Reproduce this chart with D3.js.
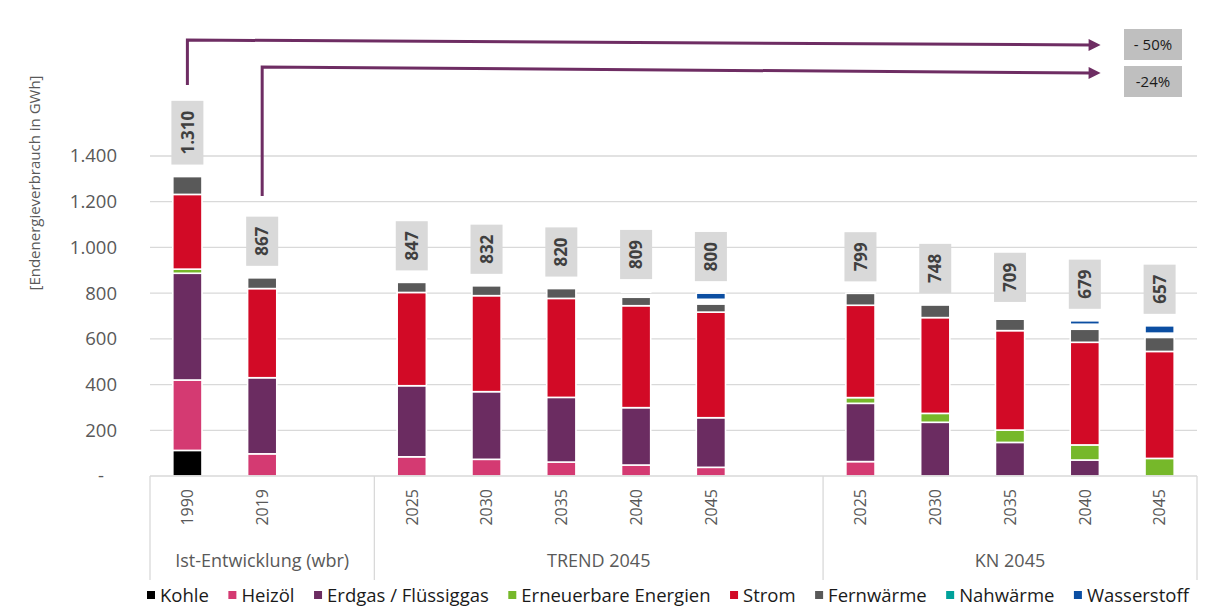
<!DOCTYPE html>
<html><head><meta charset="utf-8">
<script src="https://cdn.jsdelivr.net/npm/d3@7"></script>
<style>
html,body{margin:0;padding:0;background:#fff;}
svg{display:block;font-family:"Open Sans","Noto Sans",sans-serif;}
</style></head>
<body><svg id="chart" width="1208" height="612"></svg>
<script>
// ---------- data ----------
const categories = ["1990","2019","","2025","2030","2035","2040","2045","","2025","2030","2035","2040","2045"];
const groupOfCategory = [0,0,0,1,1,1,1,1,1,2,2,2,2,2];
const groups = ["Ist-Entwicklung (wbr)","TREND 2045","KN 2045"];
const seriesNames = ["Kohle","Heizöl","Erdgas / Flüssiggas","Erneuerbare Energien","Strom","Fernwärme","Nahwärme","Wasserstoff"];
const kohle     = [112,  0,null,  0,  0,  0,  0,  0,null,  0,  0,  0,  0,  0];
const heizoel   = [308, 97,null, 84, 73, 61, 48, 38,null, 63,  0,  0,  0,  0];
const erdgas    = [467,333,null,311,296,283,251,217,null,255,235,147, 70,  0];
const erneuerbar= [ 18,  0,null,  0,  0,  0,  0,  0,null, 25, 39, 54, 66, 77];
const strom     = [327,390,null,408,420,433,446,462,null,404,419,435,449,468];
const fernwaerme= [ 78, 47,null, 44, 43, 43, 37, 35,null, 52, 55, 50, 57, 61];
const nahwaerme = [  0,  0,null,  0,  0,  0, 22, 21,null,  0,  0, 23, 22, 19];
const wasserstoff=[  0,  0,null,  0,  0,  0,  5, 27,null,  0,  0,  0, 15, 32];
const yTicks = [0,200,400,600,800,1000,1200,1400];
const changeLabels = ["- 50%","-24%"];
const changeFrom = [0,1]; // category index the arrow starts from

// ---------- styling ----------
const colors = ["#000000","#d43a72","#6b2c61","#76b82a","#d20a26","#595959","#00a19a","#0b4ea2"];
const barFill = ["#000000","#d43a72","#6b2c61","#76b82a","#d20a26","#595959","none","#0b4ea2"];
const seriesData = [kohle,heizoel,erdgas,erneuerbar,strom,fernwaerme,nahwaerme,wasserstoff];

const svg = d3.select("#chart");
const m={left:150,right:1197,top:156,bottom:476};
const de = d3.formatLocale({decimal:",",thousands:".",grouping:[3],currency:["","€"]});
const fmt = de.format(",d");

const x = d3.scaleBand().domain(d3.range(categories.length)).range([m.left,m.right]).paddingInner(0.61).paddingOuter(0.305);
const y = d3.scaleLinear().domain([0,1400]).range([m.bottom,m.top]);

// gridlines
svg.append("g").selectAll("line").data(yTicks.filter(d=>d>0)).join("line")
  .attr("x1",m.left).attr("x2",m.right).attr("y1",d=>y(d)).attr("y2",d=>y(d))
  .attr("stroke","#d9d9d9").attr("stroke-width",1.3);

// y axis labels
const yAxis = d3.axisLeft(y).tickValues(yTicks).tickSize(0).tickPadding(33)
  .tickFormat(d=>d===0?"-":fmt(d));
const gy = svg.append("g").attr("transform",`translate(${m.left},0)`).call(yAxis);
gy.select(".domain").remove();
gy.selectAll("text").attr("font-size",18.5).attr("fill","#595959").attr("font-family","Open Sans");
gy.selectAll(".tick").filter(d=>d===0).select("text").attr("dx",-13);

// y title
svg.append("text").attr("transform","translate(40,183) rotate(-90)")
  .attr("text-anchor","middle").attr("font-size",15).attr("fill","#595959")
  .text("[Endenergieverbrauch in GWh]");

// stacked bars
const rows = categories.map((c,i)=>{const r={i}; seriesNames.forEach((s,k)=>r[s]=seriesData[k][i]||0); return r;});
const stack = d3.stack().keys(seriesNames)(rows.filter(r=>categories[r.i]!==""));
stack.forEach((layer,k)=>{
  svg.append("g").selectAll("rect").data(layer.filter(d=>d[1]-d[0]>0)).join("rect")
    .attr("x",d=>x(d.data.i)).attr("width",x.bandwidth())
    .attr("y",d=>y(d[1])).attr("height",d=>y(d[0])-y(d[1]))
    .attr("fill",barFill[k])
    .attr("stroke",barFill[k]==="none"?"none":"#ffffff").attr("stroke-width",1.6);
});

// total labels
const totals = categories.map((c,i)=>c===""?null:d3.sum(seriesData,s=>s[i]||0));
const lab = svg.append("g").selectAll("g").data(totals.map((t,i)=>({t,i})).filter(d=>d.t!==null)).join("g")
  .attr("transform",d=>`translate(${x(d.i)+x.bandwidth()/2},${y(d.t)-12})`);
lab.each(function(d){
  const g=d3.select(this);
  const t=g.append("text").attr("transform","rotate(-90)").attr("text-anchor","start")
    .attr("x",10).attr("dy","0.36em").attr("font-size",17).attr("font-weight","bold").attr("fill","#404040")
    .text(fmt(d.t));
  const len=t.node().getComputedTextLength();
  g.insert("rect","text").attr("x",-16).attr("width",32).attr("y",-(len+20)).attr("height",len+20).attr("fill","#d9d9d9");
});

// x axis
svg.append("line").attr("x1",m.left).attr("x2",m.right).attr("y1",m.bottom).attr("y2",m.bottom)
  .attr("stroke","#d9d9d9").attr("stroke-width",1.3);
const groupBounds = groups.map((g,gi)=>{
  const idx=d3.range(categories.length).filter(i=>groupOfCategory[i]===gi);
  const x0=x(idx[0])-x.step()*x.paddingInner()/2, x1=x(idx[idx.length-1])+x.bandwidth()+x.step()*x.paddingInner()/2;
  return {g,x0,x1};
});
const seps = [groupBounds[0].x0, ...groupBounds.map(b=>b.x1)];
svg.append("g").selectAll("line").data(seps).join("line")
  .attr("x1",d=>d).attr("x2",d=>d).attr("y1",m.bottom).attr("y2",580)
  .attr("stroke","#d9d9d9").attr("stroke-width",1.3);
svg.append("g").selectAll("text").data(categories.map((c,i)=>({c,i})).filter(d=>d.c!=="")).join("text")
  .attr("transform",d=>`translate(${x(d.i)+x.bandwidth()/2},489) rotate(-90)`)
  .attr("text-anchor","end").attr("dy","0.36em").attr("font-size",16).attr("fill","#595959").text(d=>d.c);
svg.append("g").selectAll("text").data(groupBounds).join("text")
  .attr("x",d=>(d.x0+d.x1)/2).attr("y",567).attr("text-anchor","middle")
  .attr("font-size",18).attr("fill","#595959").text(d=>d.g);

// legend
const leg = svg.append("g");
let lx = 147;
seriesNames.forEach((s,k)=>{
  leg.append("rect").attr("x",lx).attr("y",591).attr("width",8).attr("height",8).attr("fill",colors[k]);
  const t=leg.append("text").attr("x",lx+13).attr("y",602).attr("font-size",18.5).attr("fill","#1a1a1a").text(s);
  lx += 13 + t.node().getComputedTextLength() + 19.5;
});

// arrows
const purple="#6e2d63";
const defs=svg.append("defs");
defs.append("marker").attr("id","ah").attr("viewBox","0 0 10 10").attr("refX",2).attr("refY",5)
  .attr("markerWidth",4.6).attr("markerHeight",4).attr("orient","auto").attr("markerUnits","strokeWidth")
  .append("path").attr("d","M0,0 L10,5 L0,10 z").attr("fill",purple);
const arrowTops=[40,67], arrowEnds=[45,73], arrowBottoms=[85,196];
changeFrom.forEach((ci,k)=>{
  const cx=x(ci)+x.bandwidth()/2;
  svg.append("path").attr("d",`M${cx},${arrowBottoms[k]} L${cx},${arrowTops[k]} L1091,${arrowEnds[k]}`)
    .attr("fill","none").attr("stroke",purple).attr("stroke-width",3).attr("marker-end","url(#ah)");
  const by=[29,66][k];
  svg.append("rect").attr("x",1124).attr("y",by).attr("width",58).attr("height",31).attr("fill","#bfbfbf");
  svg.append("text").attr("x",1153).attr("y",by+15.5).attr("dy","0.36em").attr("text-anchor","middle")
    .attr("font-size",15).attr("fill","#1a1a1a").text(changeLabels[k]);
});
</script></body></html>
